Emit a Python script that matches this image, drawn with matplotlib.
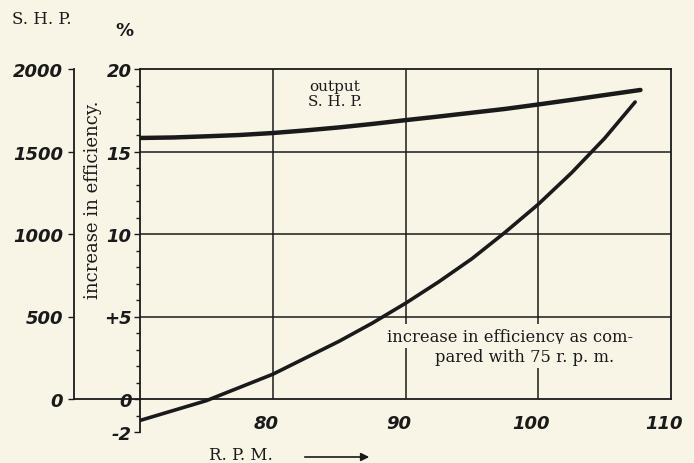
import numpy as np
import matplotlib
matplotlib.use('Agg')
import matplotlib.pyplot as plt
from matplotlib.transforms import ScaledTranslation

# data
rpm_shp = [70, 72.5, 75, 77.5, 80, 82.5, 85, 87.5, 90, 92.5, 95, 97.5, 100, 102.5, 105, 107.7]
shp = [1582, 1585, 1592, 1600, 1612, 1628, 1646, 1667, 1690, 1712, 1735, 1758, 1785, 1813, 1842, 1873]

rpm_eff = [70, 72.5, 75, 77.5, 80, 82.5, 85, 87.5, 90, 92.5, 95, 97.5, 100, 102.5, 105, 107.3]
eff = [-1.3, -0.7, -0.1, 0.7, 1.5, 2.5, 3.5, 4.6, 5.8, 7.1, 8.5, 10.1, 11.8, 13.7, 15.8, 18.0]

x_ticks = [80, 90, 100, 110]
eff_ticks = [20, 15, 10, 5, 0, -2]
eff_labels = ['20', '15', '10', '+5', '0', '-2']
shp_ticks = [2000, 1500, 1000, 500, 0]

bg = '#f8f5e6'
ink = '#1a1a1a'
W, H = 694, 464

fig = plt.figure(figsize=(W / 100, H / 100), dpi=100, facecolor=bg)
ax = fig.add_axes([140 / W, 1 - 433 / H, 531 / W, 363 / H])
ax.set_facecolor(bg)
ax.set_xlim(70, 110)
ax.set_ylim(-2, 20)

# frame
for s in ['top', 'right', 'bottom', 'left']:
    ax.spines[s].set_color(ink)
    ax.spines[s].set_linewidth(1.3)
ax.spines['bottom'].set_position(('data', 0))
ax.spines['right'].set_bounds(0, 20)

# grid
ax.hlines([5, 10, 15], 70, 110, color=ink, lw=1.1, zorder=1)
ax.vlines(x_ticks[:-1], 0, 20, color=ink, lw=1.1, zorder=1)

# efficiency axis
ax.set_yticks(eff_ticks)
ax.set_yticklabels(eff_labels)
ax.set_yticks(range(-2, 21), minor=True)
ax.tick_params(axis='y', which='major', length=4, width=1, color=ink, pad=2,
               labelsize=13, labelcolor=ink)
ax.tick_params(axis='y', which='minor', length=3, width=1, color=ink)
for lab in ax.get_yticklabels():
    lab.set_fontstyle('italic')
    lab.set_fontweight('bold')

ax.set_xticks(x_ticks)
ax.tick_params(axis='x', length=0, pad=11, labelsize=13, labelcolor=ink)
off = ScaledTranslation(-7 / 100, 0, fig.dpi_scale_trans)
for lab in ax.get_xticklabels():
    lab.set_fontstyle('italic')
    lab.set_fontweight('bold')
    lab.set_transform(lab.get_transform() + off)

# S.H.P. axis
ax2 = ax.twinx()
ax2.set_ylim(-200, 2000)
for s in ['top', 'right', 'bottom']:
    ax2.spines[s].set_visible(False)
ax2.spines['left'].set_visible(True)
ax2.spines['left'].set_position(('axes', -0.124))
ax2.spines['left'].set_bounds(0, 2000)
ax2.spines['left'].set_color(ink)
ax2.spines['left'].set_linewidth(1.3)
ax2.yaxis.tick_left()
ax2.set_yticks(shp_ticks)
ax2.tick_params(axis='y', length=4, width=1, color=ink, pad=4,
                labelsize=13, labelcolor=ink)
for lab in ax2.get_yticklabels():
    lab.set_fontstyle('italic')
    lab.set_fontweight('bold')

# bottom line continues to S.H.P. axis
ax.plot([-0.124, 0], [2 / 22, 2 / 22], transform=ax.transAxes, color=ink,
        lw=1.3, clip_on=False)

# curves
ax2.plot(rpm_shp, shp, color=ink, lw=3.2, solid_capstyle='round', zorder=3)
ax.plot(rpm_eff, eff, color=ink, lw=2.6, solid_capstyle='round', zorder=3)

serif = ['DejaVu Serif']
ax.text(84.7, 18.5, 'output\nS. H. P.', family=serif, fontsize=11, color=ink,
        ha='center', va='center', linespacing=1.05)
ax.text(97.9, 3.8, 'increase in efficiency as com-', family=serif, fontsize=11.8,
        color=ink, ha='center', va='center', zorder=4,
        bbox=dict(facecolor=bg, edgecolor='none', pad=2.5))
ax.text(99.0, 2.6, 'pared with 75 r. p. m.', family=serif, fontsize=11.8,
        color=ink, ha='center', va='center', zorder=4,
        bbox=dict(facecolor=bg, edgecolor='none', pad=2.5))

fig.text(93 / W, 1 - 200 / H, 'increase in efficiency.', family=serif,
         fontsize=13, color=ink, rotation=90, ha='center', va='center')
fig.text(42 / W, 1 - 20 / H, 'S. H. P.', family=serif, fontsize=12,
         color=ink, ha='center', va='center')
fig.text(124 / W, 1 - 31 / H, '%', fontsize=13, fontweight='bold',
         color=ink, ha='center', va='center')
fig.text(241 / W, 1 - 456 / H, 'R. P. M.', family=serif, fontsize=12,
         color=ink, ha='center', va='center')
ax.annotate('', xy=(372 / W, 1 - 458 / H), xytext=(302 / W, 1 - 458 / H),
            xycoords='figure fraction', textcoords='figure fraction',
            arrowprops=dict(arrowstyle='-|>', color=ink, lw=1.2,
                            mutation_scale=12))

fig.savefig('out.png', dpi=100, facecolor=bg)
